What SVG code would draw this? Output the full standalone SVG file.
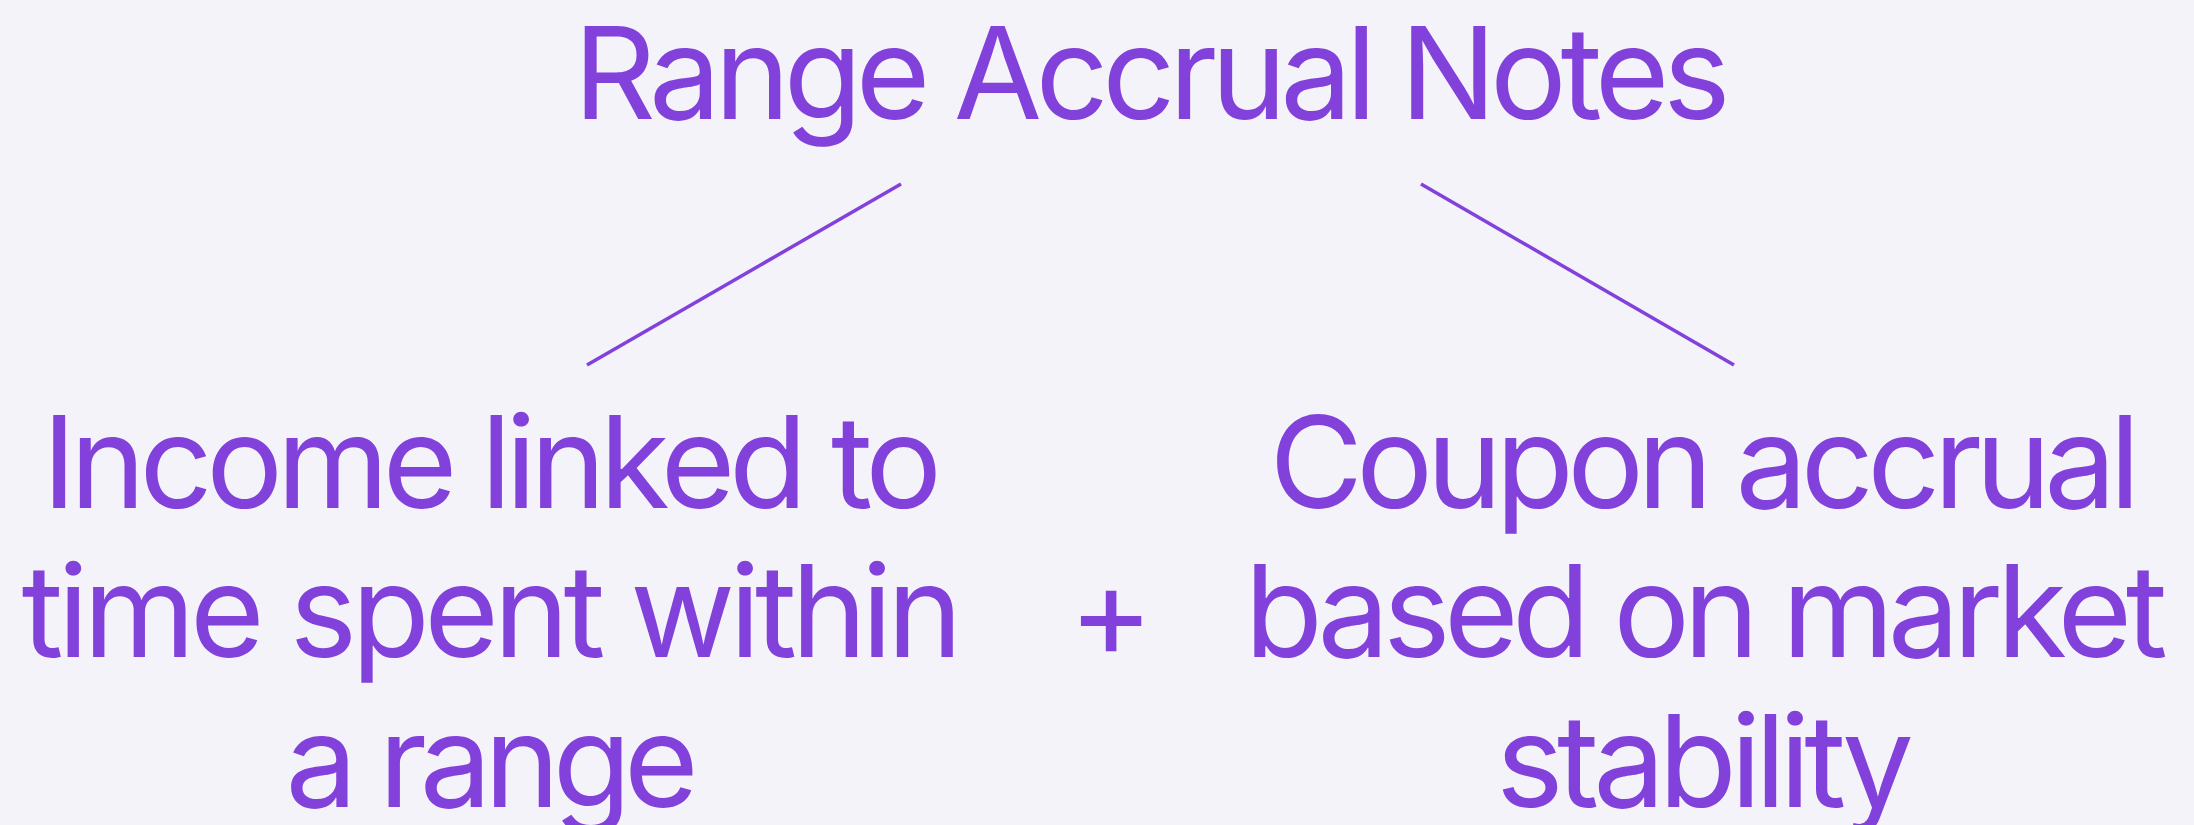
<svg xmlns="http://www.w3.org/2000/svg" width="2194" height="825" viewBox="0 0 2194 825">
  <style>
    .lbl { font-family: Inter, "Noto Sans", "Liberation Sans", sans-serif; font-size: 128px; fill: #8341DC; text-anchor: middle; }
    .edge { stroke: #8341DC; stroke-width: 3.5; fill: none; }
  </style>
  <rect width="2194" height="825" fill="#F4F3F9"/>
  <g id="connectors">
    <line class="edge" x1="901" y1="184" x2="587" y2="365"/>
    <line class="edge" x1="1421" y1="184" x2="1734" y2="365"/>
  </g>
  <g id="root">
    <text class="lbl" x="1152" y="119" textLength="1157" lengthAdjust="spacing">Range Accrual Notes</text>
  </g>
  <g id="income">
    <text class="lbl" x="492" y="508" textLength="900" lengthAdjust="spacing">Income linked to</text>
    <text class="lbl" x="492" y="657" textLength="941" lengthAdjust="spacing">time spent within</text>
    <text class="lbl" x="492" y="807" textLength="413" lengthAdjust="spacing">a range</text>
  </g>
  <g id="plus">
    <text class="lbl" x="1111" y="657">+</text>
  </g>
  <g id="coupon">
    <text class="lbl" x="1705" y="508" textLength="871" lengthAdjust="spacing">Coupon accrual</text>
    <text class="lbl" x="1706" y="657" textLength="923" lengthAdjust="spacing">based on market</text>
    <text class="lbl" x="1705" y="807" textLength="418" lengthAdjust="spacing">stability</text>
  </g>
</svg>
